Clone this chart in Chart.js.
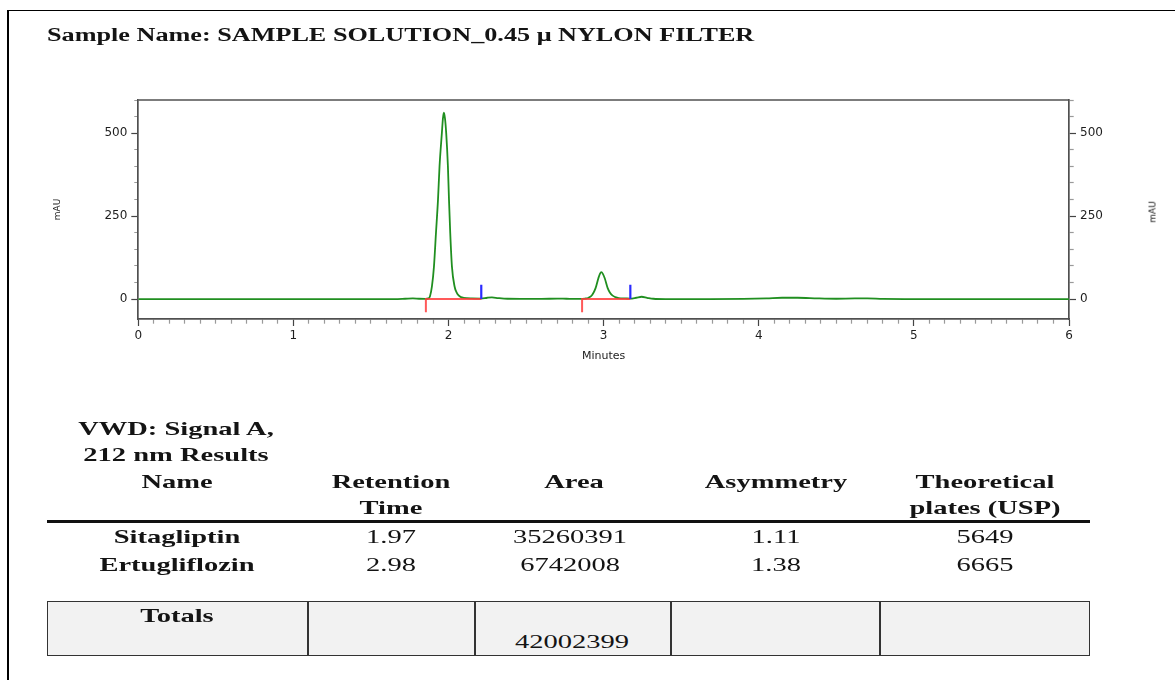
<!DOCTYPE html>
<html>
<head>
<meta charset="utf-8">
<script src="https://cdn.jsdelivr.net/npm/chart.js@4.4.1/dist/chart.umd.min.js"></script>
<style>
  html, body { margin: 0; padding: 0; background: #fff; }
  #page { position: relative; width: 1175px; height: 680px; overflow: hidden; background: #fff; }
  #chartBox { position: absolute; left: 0; top: 0; width: 1175px; height: 680px; }
  .t { position: absolute; white-space: nowrap; color: #141414; }
  #border { position: absolute; left: 7px; top: 10px; width: 1200px; height: 700px;
            border-left: 2px solid #000; border-top: 1.5px solid #000; box-sizing: border-box; }
  #rule { position: absolute; left: 47px; top: 519.5px; width: 1043px; height: 3px; background: #111; }
  #totals { position: absolute; left: 47px; top: 601px; width: 1043px; height: 55px;
            background: #f2f2f2; border: 1.5px solid #333; box-sizing: border-box; }
  .div { position: absolute; top: 601px; width: 1.5px; height: 55px; background: #333; }
</style>
</head>
<body>
<div id="page">
  <div id="border"></div>
  <div id="chartBox"><canvas id="chart"></canvas></div>
  <div id="rule"></div>
  <div id="totals"></div>
</div>
<script>
// ---------------- data ----------------
const timeMin = [0, 0.5, 1.0, 1.5, 1.65, 1.72, 1.77, 1.81, 1.85, 1.87,
  1.880, 1.893, 1.906, 1.919, 1.932, 1.942, 1.957, 1.964, 1.970,
  1.977, 1.985, 1.996, 2.003, 2.011, 2.022, 2.039, 2.052, 2.065, 2.080, 2.097,
  2.15, 2.21, 2.25, 2.28, 2.32, 2.38,
  2.50, 2.60, 2.70, 2.76, 2.84, 2.88,
  2.903, 2.927, 2.948, 2.966, 2.976, 2.985,
  2.995, 3.007, 3.026, 3.040, 3.056, 3.075, 3.097,
  3.14, 3.17, 3.21, 3.245, 3.28, 3.32,
  3.40, 3.60, 3.90, 4.05, 4.15, 4.25, 4.38,
  4.50, 4.62, 4.70, 4.80, 5.00, 5.50, 6.00];
const signalMAU = [0, 0, 0, 0, 0, 1, 2, 1, 0.5, 2,
  8, 38, 98, 199, 299, 400, 500, 545, 562,
  545, 500, 400, 299, 199, 98, 38, 20, 11, 6, 4,
  2, 1.5, 4, 5, 3, 1,
  0.5, 0.5, 1.5, 1, 0.5, 1.5,
  4, 13, 33, 63, 76, 81,
  76, 63, 33, 20, 11, 6, 3,
  2, 1.5, 4, 7, 4, 1,
  0, 0, 0.5, 2, 4, 4, 2,
  1, 2, 2, 0.5, 0, 0, 0];

// integration baseline markers (minutes / mAU)
const baselineStartMin = [1.854, 2.861];
const baselineEndMin = [2.211, 3.172];
const startMarkMAU = [-40, -40];
const endMarkMAU = [43, 43];

// results table
const peakNames = ['Sitagliptin', 'Ertugliflozin'];
const retentionTime = ['1.97', '2.98'];
const peakArea = ['35260391', '6742008'];
const asymmetry = ['1.11', '1.38'];
const theoreticalPlates = ['5649', '6665'];
const totalArea = '42002399';
const totalsLabel = 'Totals';
const tableHeaders = [['Name'], ['Retention', 'Time'], ['Area'], ['Asymmetry'], ['Theoretical', 'plates (USP)']];
const resultsTitle = ['VWD: Signal A,', '212 nm Results'];
const sampleTitle = 'Sample Name: SAMPLE SOLUTION_0.45 \u03bc NYLON FILTER';
const xAxisTitle = 'Minutes';
const yAxisTitle = 'mAU';

// ---------------- text overlay ----------------
const page = document.getElementById('page');
const SERIF = '"Liberation Serif", "Times New Roman", serif';
function addText(str, x, cy, o) {
  const d = document.createElement('div');
  d.className = 't';
  d.textContent = str;
  d.style.font = (o.bold ? 'bold ' : '') + o.size + 'px ' + o.family;
  d.style.lineHeight = '1';
  d.style.left = x + 'px';
  d.style.top = cy + 'px';
  const rot = o.rotate ? ' rotate(' + o.rotate + 'deg)' : '';
  if (o.align === 'left') {
    d.style.transformOrigin = 'left center';
    d.style.transform = 'translate(0,-50%) scaleX(' + o.sx + ')';
  } else {
    d.style.transformOrigin = 'center center';
    d.style.transform = 'translate(-50%,-50%)' + rot + ' scaleX(' + o.sx + ')';
  }
  page.appendChild(d);
}
const TS = 19, TSX = 1.5;
addText(sampleTitle, 47, 35, {bold: true, size: 18, family: SERIF, sx: 1.455, align: 'left'});
addText(resultsTitle[0], 176, 428, {bold: true, size: TS, family: SERIF, sx: TSX});
addText(resultsTitle[1], 176, 454, {bold: true, size: TS, family: SERIF, sx: TSX});
const colX = [177, 391, 574, 776, 985];
const headY = [481, 507];
tableHeaders.forEach((lines, c) => lines.forEach((s, k) =>
  addText(s, colX[c], headY[k], {bold: true, size: TS, family: SERIF, sx: TSX})));
const rowY = [536, 564];
peakNames.forEach((n, r) => {
  addText(n, colX[0], rowY[r], {bold: true, size: TS, family: SERIF, sx: TSX});
  addText(retentionTime[r], colX[1], rowY[r], {size: TS, family: SERIF, sx: TSX});
  addText(peakArea[r], colX[2] - 4, rowY[r], {size: TS, family: SERIF, sx: TSX});
  addText(asymmetry[r], colX[3], rowY[r], {size: TS, family: SERIF, sx: TSX});
  addText(theoreticalPlates[r], colX[4], rowY[r], {size: TS, family: SERIF, sx: TSX});
});
[308, 475, 671, 880].forEach(x => {
  const d = document.createElement('div'); d.className = 'div';
  d.style.left = (x - 0.75) + 'px'; page.appendChild(d);
});
addText(totalsLabel, 177, 615, {bold: true, size: TS, family: SERIF, sx: TSX});
addText(totalArea, 572, 641, {size: TS, family: SERIF, sx: TSX});
addText(yAxisTitle, 1153, 212, {size: 9, family: '"DejaVu Sans"', sx: 1, rotate: -90});

// ---------------- chart ----------------
const trace = timeMin.map((t, i) => ({x: t, y: signalMAU[i]}));
const datasets = [{
  label: 'VWD Signal A, 212 nm', data: trace, borderColor: '#208f20', borderWidth: 1.8,
  pointRadius: 0, cubicInterpolationMode: 'monotone', order: 3
}];
baselineStartMin.forEach((s, i) => {
  const e = baselineEndMin[i];
  datasets.push({label: 'baseline ' + (i + 1),
    data: [{x: s, y: startMarkMAU[i]}, {x: s, y: 0}, {x: e, y: 0}],
    borderColor: 'rgba(255,60,60,0.85)', borderWidth: 2, pointRadius: 0, order: 1});
  datasets.push({label: 'end ' + (i + 1),
    data: [{x: e, y: 0}, {x: e, y: endMarkMAU[i]}],
    borderColor: '#2b2bff', borderWidth: 2.2, pointRadius: 0, order: 0});
});

const TICK_FONT = {family: '"DejaVu Sans"', size: 12};
const TL = 7;
function yAxis(pos) {
  return {
    type: 'linear', position: pos, min: -60, max: 600,
    ticks: {stepSize: 50, autoSkip: false, maxTicksLimit: 100, font: TICK_FONT, color: '#1e1e1e', padding: 4,
      callback: v => (Math.abs(v % 250) < 1e-6 ? String(v) : '')},
    grid: {drawOnChartArea: false, drawTicks: true, tickLength: TL, tickWidth: 1.2,
      tickColor: c => {
        const v = c.tick ? c.tick.value : NaN;
        if (Math.abs(v % 250) < 1e-6) return '#444';
        if (Math.abs(v % 50) < 1e-6) return '#9a9a9a';
        return 'rgba(0,0,0,0)';
      },
      tickBorderDash: c => {
        const v = c.tick ? c.tick.value : NaN;
        if (Math.abs(v % 250) < 1e-6) return [];
        return pos === 'left' ? [0, TL - 4, 4, 100] : [4, 100];
      }},
    border: {display: true, color: '#505050', width: 1.7},
    afterFit: s => { s.width = pos === 'left' ? 98.3 : 46; }
  };
}
const yLeft = yAxis('left');
yLeft.title = {display: true, text: yAxisTitle, font: {family: '"DejaVu Sans"', size: 9}, color: '#222',
  padding: {top: 12, bottom: 0}};

const framePlugin = {
  id: 'frame',
  afterDraw(chart) {
    const {ctx, chartArea: a} = chart;
    ctx.save();
    ctx.strokeStyle = '#505050'; ctx.lineWidth = 1.7;
    ctx.beginPath(); ctx.moveTo(a.left, a.top); ctx.lineTo(a.right, a.top); ctx.stroke();
    ctx.restore();
  }
};

new Chart(document.getElementById('chart'), {
  type: 'scatter',
  data: {datasets},
  plugins: [framePlugin],
  options: {
    responsive: true, maintainAspectRatio: false, animation: false,
    showLine: true,
    layout: {padding: {top: 100, left: 40, right: 60, bottom: 316}},
    plugins: {legend: {display: false}, tooltip: {enabled: false}},
    elements: {line: {tension: 0}},
    scales: {
      x: {
        type: 'linear', position: 'bottom', min: 0, max: 6,
        ticks: {stepSize: 0.1, autoSkip: false, maxTicksLimit: 100, maxRotation: 0, font: TICK_FONT,
          color: '#1e1e1e', padding: 3,
          callback: v => (Math.abs(v - Math.round(v)) < 1e-6 ? String(Math.round(v)) : '')},
        grid: {drawOnChartArea: false, drawTicks: true, tickLength: TL, tickWidth: 1.2,
          tickColor: c => {
            const v = c.tick ? c.tick.value : NaN;
            return Math.abs(v - Math.round(v)) < 1e-6 ? '#444' : '#9a9a9a';
          },
          tickBorderDash: c => {
            const v = c.tick ? c.tick.value : NaN;
            return Math.abs(v - Math.round(v)) < 1e-6 ? [] : [4, 100];
          }},
        border: {display: true, color: '#505050', width: 1.7},
        title: {display: true, text: xAxisTitle, font: {family: '"DejaVu Sans"', size: 11}, color: '#222',
          padding: {top: 0, bottom: 1}},
        afterFit: s => { s.height = 45; }
      },
      y: yLeft,
      y2: yAxis('right')
    }
  }
});
</script>
</body>
</html>
